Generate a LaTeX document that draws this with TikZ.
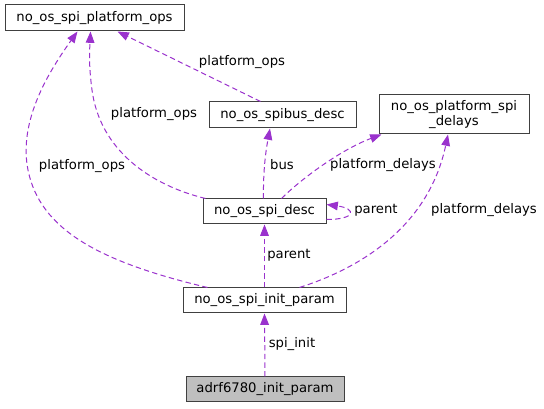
\documentclass[tikz,border=0pt]{standalone}
\usepackage{fontspec}
\setmainfont{DejaVu Sans}
\usetikzlibrary{arrows.meta}
\usetikzlibrary{calc}
\definecolor{edgecol}{RGB}{154,50,205}

\begin{document}
\begin{tikzpicture}[x=0.75pt,y=-0.75pt,
        font=\fontsize{9.9}{11.3}\selectfont,
        box/.style={draw=black!75,line width=0.75pt,fill=white,inner sep=0pt,minimum height=18.75pt},
        rel/.style={edgecol,dash pattern=on 4pt off 2.5pt,line width=0.75pt,-{Triangle[length=8.5pt,width=6.5pt]}},
        lbl/.style={inner sep=0pt}]
            \useasboundingbox (0,0) rectangle (544,409);
            % classes
            \node[box,minimum width=134.25pt,minimum height=19.5pt] (platops) at (94.5,18) {no\_os\_spi\_platform\_ops};
            \node[box,minimum width=110.25pt,minimum height=19.5pt] (spibus) at (282.5,115) {no\_os\_spibus\_desc};
            \node[box,minimum width=112.5pt,minimum height=29.25pt,align=center] (delays) at (454,114.5) {no\_os\_platform\_spi\\\_delays};
            \node[box,minimum width=92.25pt] (spidesc) at (264.5,211.5) {no\_os\_spi\_desc};
            \node[box,minimum width=122.25pt] (initparam) at (264.5,300.5) {no\_os\_spi\_init\_param};
            \node[box,minimum width=118.5pt,fill=black!25] (adrf) at (265,389.5) {adrf6780\_init\_param};
            % members
            \draw[rel] (adrf.north) -- (initparam.south);
            \draw[rel] (initparam.north) -- (spidesc.south);
            \draw[rel] ($(spidesc.east)+(0,8)$) .. controls +(30,0) and +(30,4) .. ($(spidesc.east)+(0,-7)$);
            \draw[rel] ($(spidesc.north)+(-1,0)$) .. controls (263,170) and (266,150) .. ($(spibus.south)+(-12.5,0)$);
            \draw[rel] ($(spidesc.north)+(17,0)$) .. controls (300,180) and (340,150) .. ($(delays.south west)+(3,0)$);
            \draw[rel] ($(initparam.north)+(35,0)$) .. controls (370,265) and (430,220) .. ($(delays.south)+(-6,0)$);
            \draw[rel] ($(spibus.north)+(-22,0)$) -- ($(platops.south)+(23,0)$);
            \draw[rel] ($(spidesc.north west)+(3,0)$) .. controls (150,185) and (100,150) .. (92,90) .. controls (88,60) and (90,45) .. ($(platops.south)+(-4,0)$);
            \draw[rel] ($(initparam.north west)+(25,0)$) .. controls (100,262) and (40,230) .. (28,170) .. controls (18,120) and (50,70) .. ($(platops.south)+(-17,0)$);
            % labels
            \foreach \x/\y/\t [count=\i] in {242/62/platform\_ops,154/114/platform\_ops,82/166/platform\_ops,
                    383/165/platform\_delays,484/210/platform\_delays,282/165/bus,
                    376/210/parent,289/255/parent,292/344/spi\_init} {
                \node[lbl] (lab\i) at (\x,\y) {\t};
            }
        \end{tikzpicture}
\end{document}
